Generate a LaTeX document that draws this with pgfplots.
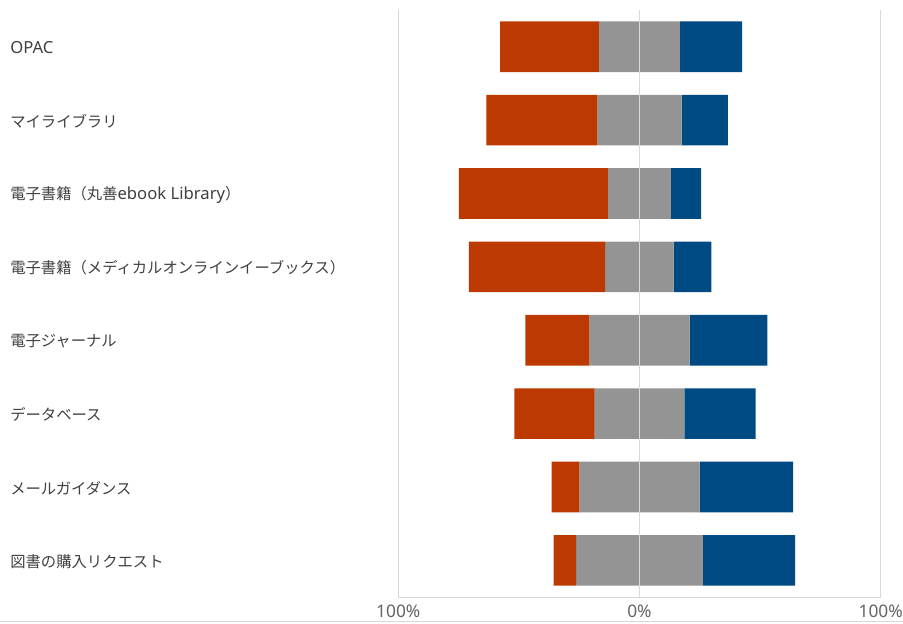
\documentclass[border=0pt]{standalone}
\usepackage{pgfplots}
\pgfplotsset{compat=1.18}
\usepackage{pgfplotstable}
\usepackage{fontspec}
\setmainfont{Noto Sans}
\newfontfamily\jp[Scale=0.92]{Noto Sans CJK JP}

\definecolor{neg}{RGB}{188,58,2}
\definecolor{neu}{RGB}{148,148,148}
\definecolor{pos}{RGB}{0,74,132}
\definecolor{gridc}{RGB}{217,217,217}
\definecolor{labc}{RGB}{64,64,64}
\definecolor{tickc}{RGB}{100,100,100}

% idx: 0 = top row; o = left (orange), g = middle (gray), b = right (blue), in %
\pgfplotstableread{
idx o    g    b
0   41.0 33.6 25.8
1   46.0 35.0 19.2
2   61.8 26.1 12.5
3   56.5 28.4 15.6
4   26.5 41.6 32.2
5   33.3 37.2 29.6
6   11.5 49.8 38.8
7   9.3  52.6 38.2
}\data

\begin{document}
\begin{tikzpicture}
\useasboundingbox (0,0) rectangle (677.25pt,468pt);
\draw[gridc, line width=0.75pt] (0,1.5pt) -- (677.25pt,1.5pt);
\begin{axis}[
  at={(298.7pt,20.25pt)}, anchor=south west,
  scale only axis,
  width=361.8pt, height=440.25pt,
  xbar stacked,
  stack negative=on previous,
  bar width=0.69,
  xmin=-100, xmax=100,
  ymin=-0.5, ymax=7.5,
  y dir=reverse,
  axis x line*=bottom,
  axis y line*=left,
  x axis line style={gridc, line width=0.75pt, -},
  y axis line style={draw=none},
  xmajorgrids,
  major grid style={gridc, line width=0.75pt},
  major tick length=0pt,
  axis on top,
  xtick={-100,0,100},
  xticklabels={100\%,0\%,100\%},
  xticklabel style={font=\fontsize{13}{15}\selectfont, text=tickc, inner sep=0pt, yshift=-6pt},
  ytick={0,...,7},
  yticklabels={
    OPAC,
    {\jp マイライブラリ},
    {\jp 電子書籍（丸善}ebook Library{\jp ）},
    {\jp 電子書籍（メディカルオンラインイーブックス）},
    {\jp 電子ジャーナル},
    {\jp データベース},
    {\jp メールガイダンス},
    {\jp 図書の購入リクエスト}
  },
  yticklabel style={font=\fontsize{12.5}{15}\selectfont, text=labc, anchor=west, inner sep=0pt, xshift=-291.2pt, yshift=-1pt},
]
\addplot[draw=none, fill=none] table[x expr={-\thisrow{o}-0.5*\thisrow{g}}, y=idx] {\data};
\addplot[fill=neg, draw=none] table[x=o, y=idx] {\data};
\addplot[fill=neu, draw=none] table[x=g, y=idx] {\data};
\addplot[fill=pos, draw=none] table[x=b, y=idx] {\data};
\end{axis}
\end{tikzpicture}
\end{document}
